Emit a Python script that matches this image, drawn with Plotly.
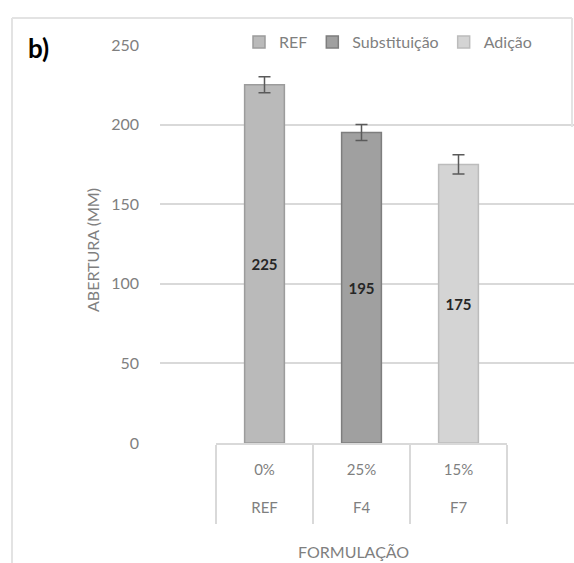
import plotly.graph_objects as go

# ---- data ----
categories = ["REF", "F4", "F7"]
percent_labels = ["0%", "25%", "15%"]
series_names = ["REF", "Substituição", "Adição"]
values = [225, 195, 175]
errors = [5, 5, 6]
y_ticks = [0, 50, 100, 150, 200, 250]

# ---- styles ----
fill_colors = ["#bababa", "#a0a0a0", "#d4d4d4"]
line_colors = ["#9c9c9c", "#7e7e7e", "#bcbcbc"]
FONT = "Lato"
GRAY = "#7f7f7f"
GRID = "#d9d9d9"

W, H = 574, 563
L, R, T, B = 160, 0, 45, 120
plot_w = W - L - R
plot_h = H - T - B
TABLE_DEPTH = 79  # height of the category-table divider lines (px)


def px_x(p):
    return (p - L) / plot_w


def px_y(p):
    return (H - B - p) / plot_h


fig = go.Figure()
for i in range(len(categories)):
    fig.add_trace(go.Bar(
        x=[categories[i]],
        y=[values[i]],
        name=series_names[i],
        xaxis="x2", yaxis="y",
        marker=dict(color=fill_colors[i], line=dict(color=line_colors[i], width=1.5)),
        width=0.41,
        error_y=dict(type="data", array=[errors[i]], color="#5a5a5a", thickness=1.5, width=6),
        text=[str(values[i])], textposition="inside", insidetextanchor="middle",
        textangle=0,
        textfont=dict(family=FONT, size=15, color="#262626", weight="bold"),
        hoverinfo="skip",
    ))

# empty traces to hold the full-width grid subplot and the outer label axis
fig.add_trace(go.Scatter(x=[], y=[], xaxis="x", yaxis="y", showlegend=False, hoverinfo="skip"))
fig.add_trace(go.Scatter(x=[], y=[], xaxis="x3", yaxis="y", showlegend=False, hoverinfo="skip"))

n = len(categories)
fig.update_layout(
    width=W, height=H,
    margin=dict(l=L, r=R, t=T, b=B),
    paper_bgcolor="white", plot_bgcolor="rgba(0,0,0,0)",
    barmode="overlay",
    font=dict(family=FONT, color=GRAY),
    showlegend=True,
    legend=dict(
        orientation="h", x=px_x(239), xanchor="left", y=px_y(42), yanchor="middle",
        bgcolor="white", font=dict(family=FONT, size=16, color=GRAY),
        traceorder="normal", itemclick=False, itemdoubleclick=False,
    ),
    xaxis=dict(domain=[0, 1], range=[0, 1], visible=False, fixedrange=True),
    xaxis2=dict(
        type="category", domain=[px_x(216), px_x(507)], anchor="y",
        categoryorder="array", categoryarray=categories,
        range=[-0.5, n - 0.5], showline=True, linecolor=GRID, linewidth=1.5,
        tickvals=categories, ticktext=percent_labels,
        ticks="outside", tickson="boundaries", ticklen=TABLE_DEPTH,
        tickwidth=1.5, tickcolor=GRID,
        ticklabelstandoff=12,
        showgrid=False, zeroline=False,
        tickfont=dict(family=FONT, size=15, color=GRAY),
        fixedrange=True,
    ),
    xaxis3=dict(
        overlaying="x2", anchor="y", range=[-0.5, n - 0.5],
        tickvals=list(range(n)), ticktext=categories,
        ticks="", showline=False, showgrid=False, zeroline=False,
        ticklabelstandoff=54,
        tickfont=dict(family=FONT, size=15, color=GRAY),
        fixedrange=True,
    ),
    yaxis=dict(
        domain=[0, 1], range=[0, 250], tickvals=y_ticks, anchor="x",
        showgrid=True, gridcolor=GRID, gridwidth=1.5, zeroline=False, showline=False,
        ticks="", ticklabelstandoff=20,
        tickfont=dict(family=FONT, size=16, color=GRAY), fixedrange=True,
    ),
    annotations=[
        dict(text="<b>b)</b>", xref="paper", yref="paper", x=px_x(26), y=px_y(48),
             xanchor="left", yanchor="middle", showarrow=False,
             font=dict(family=FONT, size=26, color="black")),
        dict(text="ABERTURA (MM)", xref="paper", yref="paper", x=px_x(93), y=px_y(250),
             xanchor="center", yanchor="middle", textangle=-90, showarrow=False,
             font=dict(family=FONT, size=16, color=GRAY)),
        dict(text="FORMULAÇÃO", xref="paper", yref="paper", x=px_x(353), y=px_y(551),
             xanchor="center", yanchor="middle", showarrow=False,
             font=dict(family=FONT, size=16, color=GRAY)),
    ],
    shapes=[
        dict(type="line", xref="paper", yref="paper", x0=px_x(12), x1=px_x(572),
             y0=px_y(18), y1=px_y(18), line=dict(color="#e3e3e3", width=2)),
        dict(type="line", xref="paper", yref="paper", x0=px_x(12), x1=px_x(12),
             y0=px_y(18), y1=px_y(570), line=dict(color="#e3e3e3", width=2)),
        dict(type="line", xref="paper", yref="paper", x0=px_x(572), x1=px_x(572),
             y0=px_y(18), y1=px_y(127), line=dict(color="#e3e3e3", width=2)),
    ],
)

fig.write_html("out.html", config={"displayModeBar": False},
               post_script="document.body.style.margin='0';")
